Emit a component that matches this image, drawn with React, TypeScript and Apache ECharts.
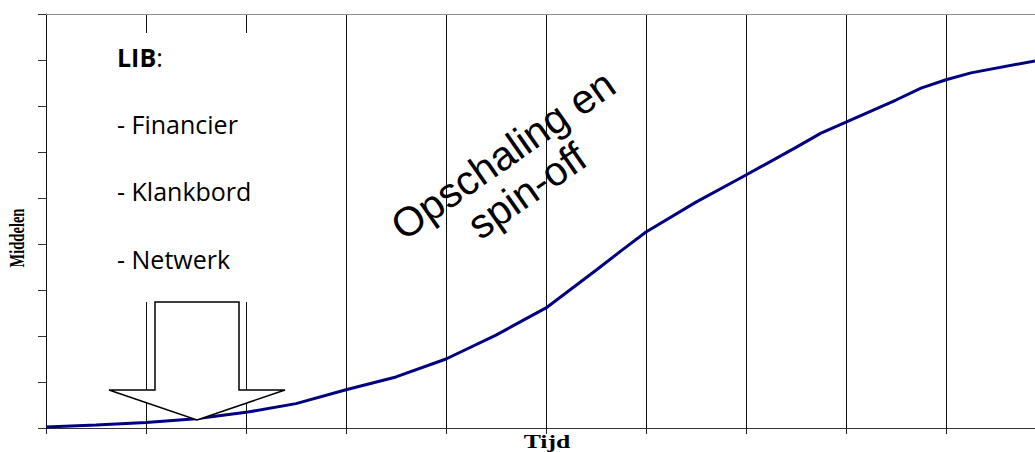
import React, { useEffect, useRef } from "react";
import * as echarts from "echarts";

// Time (x) positions and resource (y) values of the S-curve
const timeValues = [0, 0.5, 1, 1.5, 2, 2.5, 3, 3.5, 4, 4.5, 5, 5.5, 5.75, 6, 6.5, 7, 7.5, 7.75, 8, 8.5, 8.75, 9, 9.25, 9.89];
const middelenValues = [0.02, 0.065, 0.12, 0.2, 0.34, 0.53, 0.83, 1.11, 1.5, 2.02, 2.61, 3.43, 3.85, 4.26, 4.91, 5.5, 6.1, 6.41, 6.65, 7.13, 7.39, 7.57, 7.72, 7.98];

const xAxisName = "Tijd";
const yAxisName = "Middelen";
const libTitle = "LIB";
const libItems = ["- Financier", "- Klankbord", "- Netwerk"];
const phaseLines = ["Opschaling en", "spin-off"];

export default function App() {
  const ref = useRef<HTMLDivElement>(null);

  useEffect(() => {
    if (!ref.current) return;
    const chart = echarts.init(ref.current, undefined, { renderer: "svg" });
    const angle = (35 * Math.PI) / 180;
    const calibri = "'Open Sans', 'Noto Sans', sans-serif";
    const serif = "'Liberation Serif', 'Times New Roman', serif";

    const libCenters = [123.5, 190.5, 258.5];

    chart.setOption({
      animation: false,
      backgroundColor: "#ffffff",
      grid: { left: 46, right: 0, top: 14, bottom: 24, containLabel: false },
      xAxis: [
        {
          type: "value",
          min: 0,
          max: 9.89,
          interval: 1,
          axisLine: { show: true, lineStyle: { color: "#333333", width: 1 } },
          axisTick: { show: true, inside: false, length: 6, lineStyle: { color: "#222222" } },
          axisLabel: { show: false },
          splitLine: { show: true, lineStyle: { color: "#111111", width: 1 } },
        },
        {
          type: "value",
          position: "top",
          min: 0,
          max: 9.89,
          interval: 1,
          axisLine: { show: true, lineStyle: { color: "#8c8c8c", width: 1 } },
          axisTick: { show: false },
          axisLabel: { show: false },
          splitLine: { show: false },
        },
      ],
      yAxis: {
        type: "value",
        min: 0,
        max: 9,
        interval: 1,
        axisLine: { show: true, lineStyle: { color: "#111111", width: 1 } },
        axisTick: { show: true, inside: false, length: 8, lineStyle: { color: "#333333" } },
        axisLabel: { show: false },
        splitLine: { show: false },
      },
      series: [
        {
          type: "line",
          xAxisIndex: 0,
          data: timeValues.map((t, i) => [t, middelenValues[i]]),
          showSymbol: false,
          symbol: "none",
          smooth: false,
          lineStyle: { color: "#000080", width: 3 },
          z: 3,
        },
      ],
      graphic: [
        {
          type: "rect",
          z: 100,
          shape: { x: 95, y: 33, width: 200, height: 269 },
          style: { fill: "#ffffff", stroke: "none" },
        },
        {
          type: "text",
          z: 101,
          x: 117,
          y: 56.5,
          style: {
            text: "{b|" + libTitle + "}:",
            fontSize: 25,
            fontFamily: calibri,
            fill: "#000000",
            verticalAlign: "middle",
            align: "left",
            rich: { b: { fontWeight: "bold", fontSize: 25, fontFamily: calibri, fill: "#000000" } },
          },
        },
        ...libItems.map((t, i) => ({
          type: "text",
          z: 101,
          x: 117,
          y: libCenters[i],
          style: {
            text: t,
            fontSize: 25,
            fontFamily: calibri,
            fill: "#000000",
            verticalAlign: "middle",
            align: "left",
          },
        })),
        {
          type: "polygon",
          z: 102,
          shape: {
            points: [
              [155, 302],
              [239, 302],
              [239, 390],
              [285, 390],
              [197, 420],
              [109, 390],
              [155, 390],
            ],
          },
          style: { fill: "#ffffff", stroke: "#000000", lineWidth: 1.5 },
        },
        {
          type: "text",
          z: 101,
          x: 503,
          y: 155,
          rotation: angle,
          style: {
            text: phaseLines[0],
            fontSize: 41,
            fontFamily: "'Liberation Sans', Arial, sans-serif",
            fill: "#000000",
            align: "center",
            verticalAlign: "middle",
          },
        },
        {
          type: "text",
          z: 101,
          x: 527,
          y: 191,
          rotation: angle,
          style: {
            text: phaseLines[1],
            fontSize: 41,
            fontFamily: "'Liberation Sans', Arial, sans-serif",
            fill: "#000000",
            align: "center",
            verticalAlign: "middle",
          },
        },
        {
          type: "text",
          z: 101,
          x: 547,
          y: 442,
          scaleX: 1.43,
          style: {
            text: xAxisName,
            fontSize: 18,
            fontWeight: "bold",
            fontFamily: serif,
            fill: "#000000",
            align: "center",
            verticalAlign: "middle",
          },
        },
        {
          type: "text",
          z: 101,
          x: 16,
          y: 238,
          rotation: Math.PI / 2,
          scaleX: 0.66,
          style: {
            text: yAxisName,
            fontSize: 22,
            fontWeight: "bold",
            fontFamily: serif,
            fill: "#000000",
            align: "center",
            verticalAlign: "middle",
          },
        },
      ],
    });

    return () => {
      chart.dispose();
    };
  }, []);

  return (
    <div
      ref={ref}
      style={{ position: "absolute", left: 0, top: 0, width: 1035, height: 452 }}
    />
  );
}
